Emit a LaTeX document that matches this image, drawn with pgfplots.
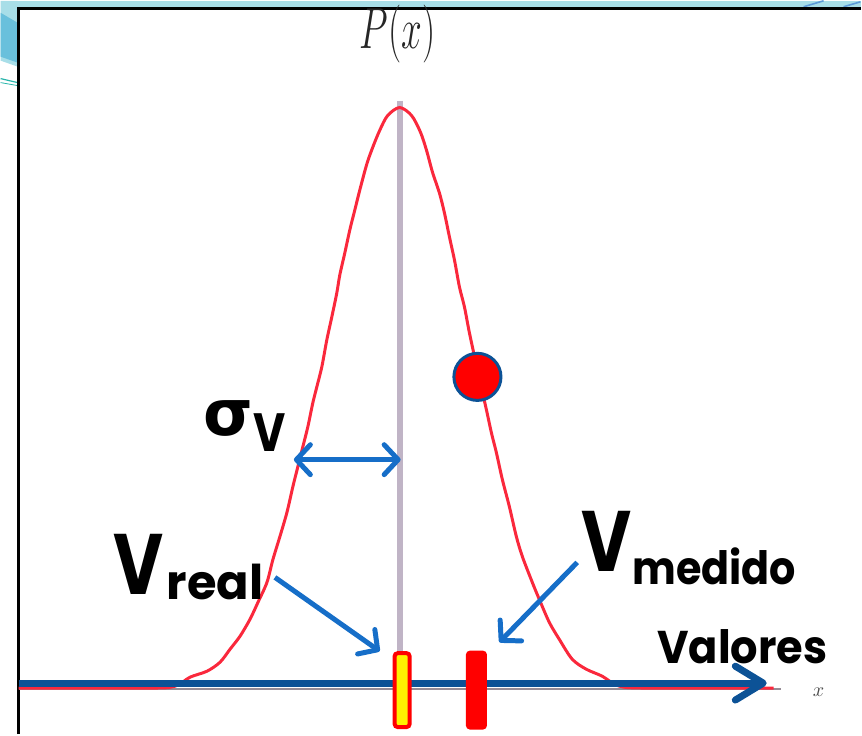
\documentclass[border=0pt]{standalone}
\usepackage{pgfplots}
\pgfplotsset{compat=1.18}
\usetikzlibrary{arrows.meta}
\usepackage{fontspec}
\setmainfont{Poppins}
\newfontfamily\greekfont{DejaVu Sans}
\definecolor{arrblue}{RGB}{22,110,200}
\definecolor{axblue}{RGB}{12,82,150}
\definecolor{curvered}{RGB}{250,40,60}
\definecolor{vgray}{RGB}{192,180,198}
\definecolor{hgray}{RGB}{150,140,150}
\definecolor{cyanbg}{RGB}{168,222,232}
\definecolor{cyandk}{RGB}{105,192,220}
\definecolor{teal2}{RGB}{40,180,170}
\begin{document}
\begin{tikzpicture}
\begin{axis}[hide axis, scale only axis, width=431pt, height=367.5pt,
  xmin=0, xmax=862, ymin=0, ymax=735, y dir=reverse, clip=false]
% bounding box
\path (axis cs:0,0) rectangle (axis cs:862,735);
% slide decoration
\fill[cyanbg] (axis cs:0,0) rectangle (axis cs:862,6);
\fill[cyanbg] (axis cs:0,0) -- (axis cs:17,0) -- (axis cs:17,66) -- (axis cs:0,60) -- cycle;
\fill[cyandk] (axis cs:0,12) -- (axis cs:17,22) -- (axis cs:17,62) -- (axis cs:0,56) -- cycle;
\draw[teal2, line width=0.6pt] (axis cs:0,78) -- (axis cs:17,82);
\draw[teal2, line width=0.4pt] (axis cs:0,82) -- (axis cs:17,85);
\draw[arrblue!70, line width=0.8pt] (axis cs:805,6) -- (axis cs:825,0);
\draw[arrblue!70, line width=0.8pt] (axis cs:845,6) -- (axis cs:862,1);
\draw[black, line width=1.5pt] (axis cs:18,735) -- (axis cs:18,7.5) -- (axis cs:862,7.5);
% vertical gray line
\addplot[vgray, line width=3pt] coordinates {(400,100) (400,690)};
% original x axis
\addplot[hgray, line width=1pt] coordinates {(18,690) (782,690)};
% gaussian curve
\addplot[curvered, line width=1.5pt, smooth, tension=0.5] coordinates {
(18,689) (150,689) (175,687) (190,678) (207,672) (220,663) (230,650) (240,637)
(250,620) (258,603) (267,583) (273,560) (280,537) (287,513) (293,487) (298,467)
(303,447) (308,427) (313,403) (317,387) (322,367) (327,340) (332,317) (337,293)
(340,275) (345,253) (350,230) (355,210) (360,190) (367,164) (373,147) (380,130)
(388,115) (400,107) (412,115) (421,132) (427,150) (433,172) (440,193) (445,213)
(450,237) (455,260) (460,287) (465,307) (470,333) (478,370) (487,410) (492,433)
(497,453) (503,480) (510,507) (517,537) (523,557) (533,583) (540,600) (550,623)
(560,640) (573,660) (587,670) (603,677) (620,687) (650,689) (775,689)};
% blue value axis
\draw[axblue, line width=3.5pt, -{Straight Barb[length=14pt, width=17pt, round]}]
  (axis cs:18,684) -- (axis cs:768,684);
% measured / real value markers
\addplot[draw=red, line width=2pt, fill=yellow, rounded corners=1.5pt]
  coordinates {(395,654) (410,654) (410,728) (395,728)} --cycle;
\addplot[draw=red, line width=1pt, fill=red, rounded corners=1.5pt]
  coordinates {(467.5,652.5) (486.5,652.5) (486.5,729.5) (467.5,729.5)} --cycle;
% red dot
\addplot[only marks, mark=*, mark size=11.8pt,
  mark options={fill=red, draw=axblue, line width=1.5pt}] coordinates {(478,377)};
% annotation arrows
\draw[arrblue, line width=2.5pt, {Straight Barb[length=7pt, width=15pt, round]}-{Straight Barb[length=7pt, width=15pt, round]}]
  (axis cs:294,460) -- (axis cs:401,460);
\draw[arrblue, line width=2.5pt, -{Straight Barb[length=7pt, width=15pt, round]}]
  (axis cs:275,578) -- (axis cs:380,652);
\draw[arrblue, line width=2.5pt, -{Straight Barb[length=7pt, width=15pt, round]}]
  (axis cs:578,563) -- (axis cs:500,643);
% texts
\node[anchor=base, inner sep=0, text=black!85] at (axis cs:398,48)
  {\scalebox{0.9}[1.4]{\fontsize{22}{22}\selectfont $P(x)$}};
\node[anchor=base west, inner sep=0] at (axis cs:203,436)
  {\greekfont\bfseries\fontsize{32}{32}\selectfont σ};
\node[anchor=base west, inner sep=0] at (axis cs:253,452)
  {\scalebox{0.82}[1]{\bfseries\fontsize{27}{27}\selectfont V}};
\node[anchor=base west, inner sep=0] at (axis cs:113,595)
  {\scalebox{0.8}[1]{\bfseries\fontsize{43}{43}\selectfont V}};
\node[anchor=base west, inner sep=0] at (axis cs:166,600)
  {\bfseries\fontsize{24}{24}\selectfont real};
\node[anchor=base west, inner sep=0] at (axis cs:582,572)
  {\scalebox{0.8}[1]{\bfseries\fontsize{43}{43}\selectfont V}};
\node[anchor=base west, inner sep=0] at (axis cs:633,585)
  {\scalebox{0.9}[1]{\bfseries\fontsize{23}{23}\selectfont medido}};
\node[anchor=base west, inner sep=0] at (axis cs:658,664)
  {\scalebox{0.94}[1]{\bfseries\fontsize{23}{23}\selectfont Valores}};
\node[anchor=base, inner sep=0, text=black!70] at (axis cs:820,697)
  {\fontsize{10}{10}\selectfont $x$};
\end{axis}
\end{tikzpicture}
\end{document}
